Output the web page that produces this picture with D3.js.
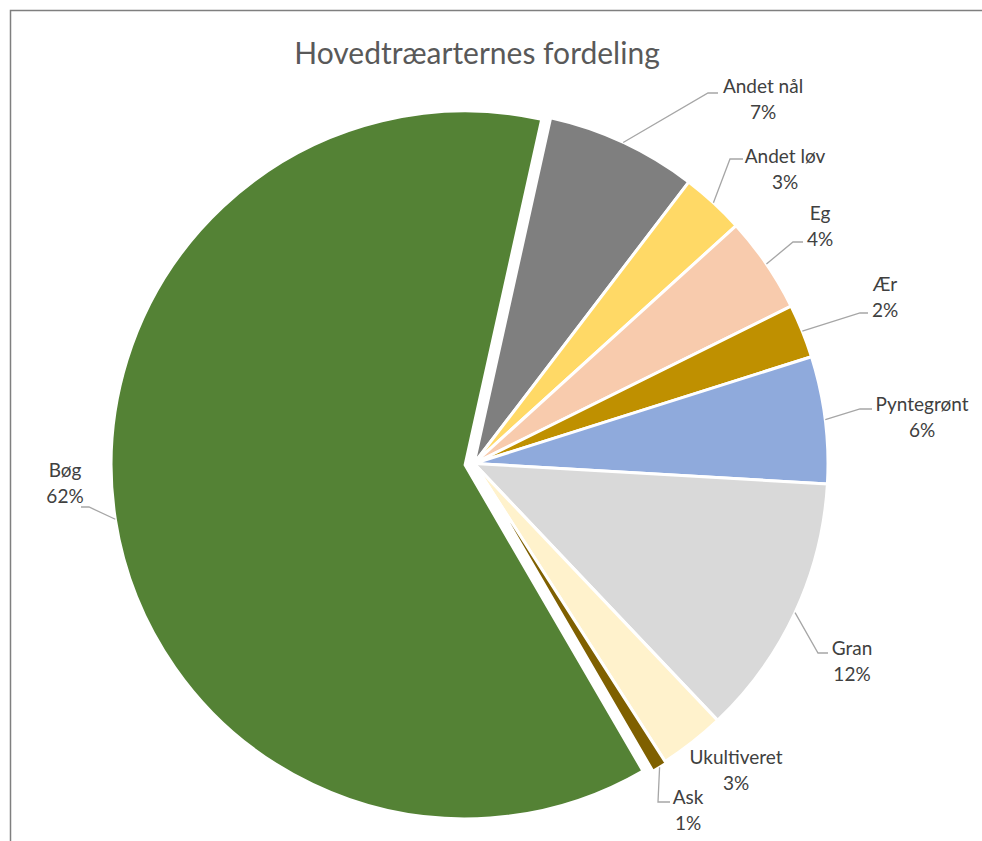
<!DOCTYPE html>
<html>
<head>
<meta charset="utf-8">
<script src="https://cdn.jsdelivr.net/npm/d3@7"></script>
<style>
  html, body { margin: 0; padding: 0; background: #fff; }
  svg { display: block; }
</style>
</head>
<body>
<svg id="chart" width="982" height="841"></svg>
<script>
// Share of main tree species (percent), in clockwise drawing order
const species = ["Andet nål", "Andet løv", "Eg", "Ær", "Pyntegrønt", "Gran", "Ukultiveret", "Ask", "Bøg"];
const shares  = [6.9, 2.9, 4.4, 2.45, 5.8, 12.0, 3.0, 0.7, 61.85];
const colors  = ["#7f7f7f", "#ffd966", "#f8cbad", "#bf9000", "#8faadc", "#d9d9d9", "#fff2cc", "#7f6000", "#548235"];
const title   = "Hovedtræarternes fordeling";

const svg = d3.select("#chart");
const W = 982, H = 841;

// Chart frame (left and top edges visible)
svg.append("path")
  .attr("d", `M10.5,${H} V10.5 H${W}`)
  .attr("fill", "none")
  .attr("stroke", "#7f7f7f")
  .attr("stroke-width", 1.5);

svg.append("text")
  .attr("x", 477).attr("y", 52)
  .attr("text-anchor", "middle")
  .attr("dominant-baseline", "central")
  .attr("font-family", "Lato, 'Open Sans', sans-serif")
  .attr("font-size", 30)
  .attr("fill", "#595959")
  .text(title);

const cx = 474, cy = 463.5, R = 354;
const toRad = d => d * Math.PI / 180;
const firstAngle = 12.5;

const pie = d3.pie().sort(null).value(d => d.v)
  .startAngle(toRad(firstAngle)).endAngle(toRad(firstAngle + 360));
const data = species.map((s, i) => ({ name: s, v: shares[i], color: colors[i] }));
const arcs = pie(data);
const total = d3.sum(shares);

const arc = d3.arc().innerRadius(0).outerRadius(R);
const edge = d3.arc().innerRadius(R).outerRadius(R);

// Exploded slices pulled out along their mid angle
const explode = { "Bøg": 9, "Ask": 2 };
const offset = (a, k) => {
  const m = (a.startAngle + a.endAngle) / 2;
  return [Math.sin(m) * k, -Math.cos(m) * k];
};

const g = svg.append("g").attr("transform", `translate(${cx},${cy})`);

g.selectAll("path.slice")
  .data(arcs)
  .join("path")
  .attr("class", "slice")
  .attr("d", arc)
  .attr("transform", d => {
    const [dx, dy] = offset(d, explode[d.data.name] || 0);
    return `translate(${dx},${dy})`;
  })
  .attr("fill", d => d.data.color)
  .attr("stroke", "#ffffff")
  .attr("stroke-width", 3)
  .attr("stroke-linejoin", "round");

// Label layout: text block position and leader line bend/end points
const labelLayout = {
  "Andet nål":  { x: 763, y: 86,  bend: [708, 93],  end: [718, 93] },
  "Andet løv":  { x: 785, y: 156, bend: [730, 159], end: [743, 159] },
  "Eg":         { x: 820, y: 213, bend: [793, 242], end: [803, 242] },
  "Ær":         { x: 885, y: 284, bend: [860, 313], end: [868, 313] },
  "Pyntegrønt": { x: 922, y: 404, bend: [860, 409], end: [872, 409] },
  "Gran":       { x: 852, y: 648, bend: [818, 653], end: [828, 653] },
  "Ukultiveret":{ x: 736, y: 757 },
  "Ask":        { x: 688, y: 797, bend: [658, 802], end: [670, 802] },
  "Bøg":        { x: 65,  y: 470, bend: [89, 507],  end: [81, 507] }
};

const leaderGroup = svg.append("g");
const labelGroup = svg.append("g")
  .attr("font-family", "Lato, 'Open Sans', sans-serif")
  .attr("font-size", 19)
  .attr("fill", "#404040");

arcs.forEach(d => {
  const L = labelLayout[d.data.name];
  if (L.bend) {
    const [dx, dy] = offset(d, explode[d.data.name] || 0);
    const c = edge.centroid(d);
    const start = [cx + c[0] + dx, cy + c[1] + dy];
    leaderGroup.append("path")
      .attr("d", d3.line()([start, L.bend, L.end]))
      .attr("fill", "none")
      .attr("stroke", "#a6a6a6")
      .attr("stroke-width", 1.3);
  }
  const pct = Math.round(d.data.v / total * 100) + "%";
  const t = labelGroup.append("text")
    .attr("text-anchor", "middle");
  t.append("tspan").attr("x", L.x).attr("y", L.y).attr("dy", "0.35em").text(d.data.name);
  t.append("tspan").attr("x", L.x).attr("y", L.y + 26.5).attr("dy", "0.35em").text(pct);
});
</script>
</body>
</html>
